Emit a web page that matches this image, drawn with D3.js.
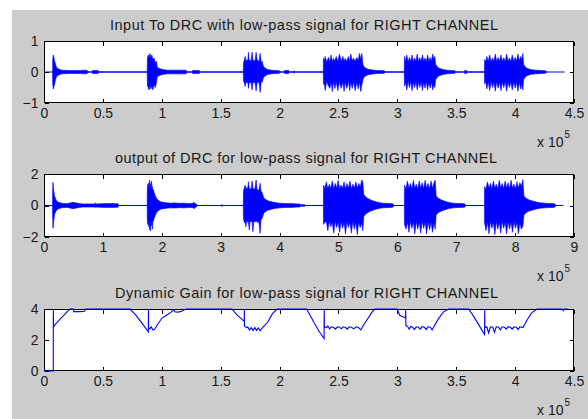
<!DOCTYPE html>
<html><head><meta charset="utf-8">
<script src="https://cdn.jsdelivr.net/npm/d3@7"></script>
<style>html,body{margin:0;padding:0;background:#fff;overflow:hidden}</style>
</head><body>
<svg id="c" width="588" height="419"></svg>
<script>
// ---------- DATA (x in units of 1e5 samples) ----------
const titles = [
  "Input To DRC with low-pass signal for RIGHT CHANNEL",
  "output of DRC for low-pass signal for RIGHT CHANNEL",
  "Dynamic Gain for low-pass signal for RIGHT CHANNEL"
];
const xTicksHalf = [0, 0.5, 1, 1.5, 2, 2.5, 3, 3.5, 4, 4.5];
const xTicksFull = [0, 1, 2, 3, 4, 5, 6, 7, 8, 9];
const yTicksIn = [-1, 0, 1];
const yTicksOut = [-2, 0, 2];
const yTicksGain = [0, 2, 4];
const inSpan = [0, 4.42];
const outSpan = [0, 8.82];

// Input signal envelope
const inX = [
  0.073,0.074,0.078,0.082,0.086,0.090,0.095,0.100,0.106,0.115,0.130,0.150,0.200,0.250,0.300,0.360,0.370,0.371,
  0.410,0.412,0.460,0.462,
  0.876,0.878,0.885,0.892,0.900,0.908,0.915,0.925,0.935,0.945,0.955,0.960,0.970,0.990,1.020,1.050,1.100,1.150,1.200,1.210,1.212,
  1.260,1.262,1.318,1.320,
  1.692,1.694,1.700,1.708,1.715,1.722,1.730,1.736,1.743,1.750,1.758,1.767,1.775,1.784,1.792,1.801,1.810,1.818,1.826,1.835,1.845,1.852,1.858,1.865,1.880,1.900,1.930,1.960,2.000,2.001,
  2.040,2.042,2.078,2.080, 2.118,2.120,2.126,2.128,
  2.371,2.373,2.380,2.387,2.400,2.416,2.427,2.438,2.448,2.458,2.470,2.481,2.495,2.509,2.523,2.538,2.548,2.557,2.571,2.586,2.596,2.605,2.617,2.628,2.642,2.656,2.668,2.679,2.690,2.699,2.706,2.712,2.725,2.750,2.780,2.820,2.860,2.890,2.895,
  3.058,3.061,3.070,3.080,3.092,3.103,3.114,3.125,3.136,3.147,3.158,3.169,3.180,3.191,3.202,3.213,3.224,3.235,3.246,3.257,3.268,3.279,3.290,3.300,3.310,3.318,3.325,3.340,3.360,3.390,3.420,3.460,3.490,3.492,
  3.570,3.572,3.588,3.590,
  3.739,3.741,3.750,3.760,3.772,3.784,3.796,3.808,3.820,3.832,3.844,3.856,3.868,3.880,3.892,3.904,3.916,3.928,3.940,3.952,3.964,3.976,3.988,4.000,4.012,4.024,4.036,4.048,4.058,4.066,4.072,4.085,4.100,4.130,4.170,4.220,4.260,4.270
];
const inHi = [
  0,0.40,0.55,0.50,0.45,0.35,0.30,0.22,0.15,0.12,0.09,0.06,0.05,0.05,0.05,0.06,0.04,0,
  0,0.05,0.05,0,
  0,0.45,0.55,0.48,0.60,0.45,0.55,0.40,0.45,0.30,0.35,0.18,0.13,0.10,0.07,0.06,0.06,0.06,0.06,0.05,0,
  0,0.05,0.05,0,
  0,0.30,0.38,0.50,0.33,0.40,0.35,0.64,0.35,0.38,0.36,0.64,0.35,0.38,0.35,0.64,0.36,0.38,0.33,0.60,0.30,0.35,0.25,0.18,0.12,0.08,0.06,0.05,0.04,0,
  0,0.05,0.05,0, 0,0.03,0.03,0,
  0,0.45,0.35,0.50,0.33,0.47,0.34,0.55,0.33,0.44,0.35,0.50,0.34,0.58,0.35,0.50,0.34,0.44,0.35,0.50,0.34,0.58,0.36,0.44,0.35,0.47,0.36,0.60,0.40,0.60,0.30,0.20,0.14,0.09,0.07,0.05,0.05,0.04,0,
  0,0.50,0.35,0.55,0.33,0.47,0.34,0.55,0.33,0.45,0.34,0.58,0.33,0.46,0.34,0.55,0.35,0.45,0.33,0.55,0.34,0.47,0.35,0.58,0.40,0.50,0.25,0.16,0.11,0.08,0.06,0.05,0.04,0,
  0,0.05,0.05,0,
  0,0.40,0.33,0.50,0.34,0.55,0.33,0.45,0.34,0.58,0.33,0.47,0.35,0.55,0.34,0.46,0.33,0.58,0.35,0.45,0.34,0.55,0.33,0.47,0.35,0.58,0.36,0.50,0.40,0.60,0.25,0.17,0.12,0.08,0.06,0.05,0.04,0
];
const inLo = [
  0,-0.35,-0.55,-0.50,-0.45,-0.40,-0.30,-0.22,-0.15,-0.12,-0.09,-0.06,-0.05,-0.05,-0.05,-0.06,-0.04,0,
  0,-0.05,-0.05,0,
  0,-0.45,-0.50,-0.58,-0.45,-0.55,-0.45,-0.58,-0.40,-0.50,-0.35,-0.18,-0.13,-0.10,-0.07,-0.06,-0.06,-0.06,-0.06,-0.05,0,
  0,-0.05,-0.05,0,
  0,-0.28,-0.35,-0.47,-0.31,-0.36,-0.32,-0.53,-0.31,-0.36,-0.32,-0.58,-0.31,-0.36,-0.32,-0.61,-0.31,-0.36,-0.31,-0.66,-0.30,-0.33,-0.25,-0.18,-0.12,-0.08,-0.06,-0.05,-0.04,0,
  0,-0.05,-0.05,0, 0,-0.03,-0.03,0,
  0,-0.40,-0.33,-0.60,-0.31,-0.45,-0.53,-0.32,-0.63,-0.31,-0.53,-0.31,-0.60,-0.31,-0.53,-0.32,-0.63,-0.31,-0.53,-0.31,-0.60,-0.32,-0.53,-0.31,-0.60,-0.33,-0.55,-0.32,-0.63,-0.40,-0.30,-0.20,-0.14,-0.09,-0.07,-0.05,-0.05,-0.04,0,
  0,-0.45,-0.32,-0.58,-0.31,-0.50,-0.31,-0.60,-0.32,-0.50,-0.31,-0.58,-0.32,-0.50,-0.31,-0.60,-0.32,-0.52,-0.31,-0.58,-0.33,-0.52,-0.32,-0.58,-0.40,-0.50,-0.25,-0.16,-0.11,-0.08,-0.06,-0.05,-0.04,0,
  0,-0.05,-0.05,0,
  0,-0.38,-0.31,-0.55,-0.32,-0.60,-0.31,-0.50,-0.32,-0.62,-0.31,-0.52,-0.33,-0.60,-0.32,-0.50,-0.31,-0.62,-0.33,-0.50,-0.32,-0.58,-0.31,-0.52,-0.33,-0.62,-0.34,-0.55,-0.40,-0.58,-0.25,-0.17,-0.12,-0.08,-0.06,-0.05,-0.04,0
];

// Output signal envelope
const outX = [
  0.145,0.147,0.152,0.158,0.164,0.170,0.178,0.186,0.195,0.204,0.220,0.240,0.270,0.300,0.350,0.400,0.450,0.500,0.550,0.600,0.650,0.700,0.800,0.860,0.870,0.880,0.950,1.050,1.150,1.260,1.262,
  1.752,1.754,1.762,1.770,1.778,1.786,1.794,1.802,1.810,1.818,1.826,1.834,1.842,1.850,1.860,1.870,1.880,1.890,1.900,1.912,1.924,1.940,1.960,1.990,2.030,2.080,2.150,2.220,2.300,2.380,2.450,2.520,2.550,2.560,2.590,2.592,
  3.015,3.017,3.025,3.027,
  3.384,3.387,3.395,3.405,3.415,3.428,3.443,3.457,3.471,3.486,3.500,3.515,3.534,3.548,3.562,3.580,3.602,3.616,3.630,3.648,3.670,3.685,3.700,3.715,3.730,3.760,3.800,3.850,3.900,3.950,4.000,4.100,4.200,4.300,4.350,4.352,
  4.360,4.362,4.430,4.432,
  4.744,4.746,4.770,4.795,4.820,4.845,4.870,4.895,4.920,4.945,4.970,4.995,5.020,5.045,5.070,5.095,5.120,5.145,5.170,5.195,5.220,5.245,5.270,5.295,5.320,5.345,5.370,5.395,5.414,5.430,5.460,5.500,5.550,5.600,5.650,5.700,5.750,5.800,5.850,5.900,5.930,5.935,
  6.120,6.122,6.147,6.172,6.197,6.222,6.247,6.272,6.297,6.322,6.347,6.372,6.397,6.422,6.447,6.472,6.497,6.522,6.547,6.572,6.597,6.622,6.643,6.660,6.700,6.750,6.800,6.850,6.900,6.950,7.000,7.050,7.100,7.150,7.155,
  7.479,7.481,7.506,7.531,7.556,7.581,7.606,7.631,7.656,7.681,7.706,7.731,7.756,7.781,7.806,7.831,7.856,7.881,7.906,7.931,7.956,7.981,8.006,8.031,8.056,8.081,8.106,8.132,8.150,8.190,8.240,8.300,8.360,8.420,8.500,8.580,8.650,8.680,8.685
];
const outHi = [
  0,0.9,1.48,1.2,1.0,0.85,0.6,0.55,0.45,0.35,0.28,0.22,0.18,0.15,0.13,0.12,0.17,0.20,0.16,0.13,0.10,0.10,0.10,0.10,0.17,0.10,0.11,0.12,0.12,0.11,0,
  0,1.0,1.35,1.1,1.45,1.05,1.62,1.1,1.4,1.0,1.55,0.95,1.2,0.9,1.0,0.8,0.75,0.6,0.55,0.45,0.40,0.33,0.28,0.22,0.20,0.17,0.15,0.16,0.14,0.15,0.13,0.13,0.20,0.13,0.10,0,
  0,0.06,0.06,0,
  0,0.9,1.05,1.15,1.30,1.05,1.15,1.0,1.51,1.05,1.1,1.0,1.55,1.05,1.1,1.0,1.62,1.05,1.0,0.95,1.41,0.9,0.85,0.7,0.5,0.4,0.3,0.25,0.2,0.17,0.15,0.12,0.12,0.1,0.1,0,
  0,0.05,0.05,0,
  0,1.3,1.1,1.5,1.05,1.35,1.1,1.55,1.05,1.4,1.1,1.6,1.05,1.3,1.1,1.5,1.05,1.4,1.1,1.55,1.05,1.35,1.1,1.5,1.1,1.4,1.15,1.62,1.5,0.7,0.55,0.45,0.35,0.28,0.22,0.18,0.15,0.14,0.13,0.12,0.10,0,
  0,1.3,1.05,1.55,1.1,1.4,1.05,1.6,1.1,1.35,1.05,1.55,1.1,1.45,1.05,1.6,1.1,1.4,1.05,1.55,1.1,1.45,1.6,0.6,0.45,0.35,0.28,0.22,0.18,0.15,0.13,0.12,0.12,0.10,0,
  0,1.2,1.05,1.5,1.1,1.4,1.05,1.55,1.1,1.35,1.05,1.6,1.1,1.4,1.05,1.55,1.1,1.45,1.05,1.6,1.1,1.35,1.05,1.5,1.1,1.45,1.2,1.65,0.6,0.45,0.35,0.28,0.22,0.18,0.15,0.13,0.12,0.10,0
];
const outLo = [
  0,-0.8,-1.45,-1.3,-1.0,-0.85,-0.6,-0.5,-0.45,-0.35,-0.28,-0.22,-0.18,-0.15,-0.13,-0.12,-0.17,-0.20,-0.16,-0.13,-0.10,-0.10,-0.10,-0.10,-0.12,-0.10,-0.11,-0.12,-0.12,-0.11,0,
  0,-0.9,-1.2,-1.0,-1.35,-1.1,-1.55,-1.05,-1.62,-1.0,-1.3,-1.0,-1.5,-0.9,-1.0,-0.8,-0.75,-0.6,-0.55,-0.45,-0.40,-0.33,-0.28,-0.22,-0.20,-0.17,-0.15,-0.16,-0.14,-0.15,-0.13,-0.13,-0.20,-0.13,-0.10,0,
  0,-0.06,-0.06,0,
  0,-0.8,-1.0,-1.1,-1.0,-1.35,-1.0,-1.05,-1.0,-1.56,-1.0,-1.05,-1.0,-1.66,-1.0,-1.05,-1.0,-1.0,-1.1,-1.0,-1.77,-0.9,-0.85,-0.7,-0.5,-0.4,-0.3,-0.25,-0.2,-0.17,-0.15,-0.12,-0.12,-0.1,-0.1,0,
  0,-0.05,-0.05,0,
  0,-1.2,-1.05,-1.05,-1.6,-1.0,-1.35,-1.05,-1.75,-1.0,-1.4,-1.05,-1.7,-1.0,-1.45,-1.05,-1.8,-1.0,-1.4,-1.05,-1.75,-1.0,-1.5,-1.05,-1.85,-1.05,-1.4,-1.1,-1.6,-0.7,-0.55,-0.45,-0.35,-0.28,-0.22,-0.18,-0.15,-0.14,-0.13,-0.12,-0.10,0,
  0,-1.2,-1.5,-1.05,-1.7,-1.0,-1.45,-1.05,-1.8,-1.0,-1.5,-1.05,-1.75,-1.0,-1.45,-1.05,-1.8,-1.0,-1.55,-1.05,-1.7,-1.1,-1.5,-0.6,-0.45,-0.35,-0.28,-0.22,-0.18,-0.15,-0.13,-0.12,-0.12,-0.10,0,
  0,-1.1,-1.6,-1.05,-1.8,-1.0,-1.45,-1.05,-1.85,-1.0,-1.5,-1.05,-1.75,-1.0,-1.45,-1.05,-1.8,-1.0,-1.5,-1.05,-1.7,-1.0,-1.45,-1.05,-1.8,-1.1,-1.5,-1.3,-0.6,-0.45,-0.35,-0.28,-0.22,-0.18,-0.15,-0.13,-0.12,-0.10,0
];

// Dynamic gain
const gainX = [
  0,0.079,0.079,0.081,0.100,0.130,0.170,0.200,0.220,0.250,0.252,0.300,0.345,0.350,
  0.730,0.780,0.830,0.886,0.887,0.888,0.900,0.910,0.925,0.940,0.960,1.000,1.040,1.080,1.100,1.110,1.140,1.170,1.190,1.210,
  1.595,1.640,1.690,1.700,1.701,1.702,1.720,1.730,1.745,1.760,1.775,1.790,1.805,1.820,1.835,1.850,1.900,1.940,1.980,
  2.230,2.290,2.330,2.378,2.379,2.381,2.400,2.410,2.425,2.440,2.460,2.475,2.490,2.510,2.525,2.540,2.560,2.575,2.590,2.610,2.630,2.650,2.670,2.690,2.705,2.740,2.785,2.810,
  3.000,3.020,3.070,3.071,3.073,3.090,3.100,3.115,3.130,3.145,3.160,3.180,3.195,3.210,3.230,3.245,3.260,3.280,3.295,3.310,3.350,3.390,3.435,
  3.605,3.647,3.690,3.741,3.742,3.744,3.760,3.775,3.790,3.810,3.825,3.840,3.860,3.875,3.890,3.910,3.925,3.940,3.960,3.975,3.990,4.010,4.025,4.040,4.067,4.100,4.140,4.186,
  4.400,4.410,4.420,4.450
];
const gainY = [
  0,0,4.0,2.84,3.05,3.3,3.6,3.85,4.0,4.0,3.83,3.83,3.85,4.0,
  4.0,3.6,3.1,2.52,4.0,2.8,2.72,2.85,2.65,2.7,2.95,3.4,3.6,3.8,3.95,3.82,3.8,3.85,3.95,4.0,
  4.0,3.6,3.27,3.2,4.0,2.91,2.80,2.84,2.65,2.80,2.62,2.80,2.62,2.78,2.60,2.75,3.16,3.70,4.0,
  4.0,3.16,2.63,2.10,4.0,2.85,2.80,2.90,2.72,2.85,2.80,2.70,2.85,2.82,2.72,2.85,2.80,2.70,2.85,2.82,2.72,2.85,2.80,2.65,2.85,3.27,3.8,4.0,
  4.0,3.59,3.42,4.0,2.93,2.85,2.70,2.88,2.82,2.68,2.85,2.82,2.70,2.86,2.82,2.68,2.85,2.82,2.65,2.85,3.38,3.80,4.0,
  4.0,3.54,2.99,2.35,4.0,2.80,2.85,2.45,2.85,2.82,2.50,2.85,2.82,2.65,2.85,2.82,2.70,2.86,2.82,2.70,2.85,2.82,2.68,2.85,2.80,3.27,3.75,4.0,
  4.0,3.9,4.0,4.0
];

// ---------- DRAWING ----------
const svg = d3.select("#c");
const FONT = "'Liberation Sans', Arial, Helvetica, sans-serif";
const BLUE = "#0000ff";
svg.append("rect").attr("x", 12).attr("y", 10).attr("width", 576).attr("height", 409).attr("fill", "#cccccc");

const L = 44, R = 574;
const titleBox = [[304, 388], [306, 382], [306.5, 383]];

function panel(idx, top, bottom, xDom, yDom, xTicks, yTicks, drawData, dataOnTop) {
  const x = d3.scaleLinear().domain(xDom).range([L, R]);
  const y = d3.scaleLinear().domain(yDom).range([bottom, top]);
  const g = svg.append("g");
  g.append("rect").attr("x", L).attr("y", top).attr("width", R - L).attr("height", bottom - top).attr("fill", "#fff");
  if (!dataOnTop) drawData(g, x, y);
  g.append("rect").attr("x", L + 0.5).attr("y", top + 0.5).attr("width", R - L - 1).attr("height", bottom - top - 1)
    .attr("fill", "none").attr("stroke", "#000").attr("stroke-width", 1).attr("shape-rendering", "crispEdges");
  const fmt = d3.format("~g");
  const axB = g.append("g").attr("transform", `translate(0,${bottom - 0.5})`)
    .call(d3.axisBottom(x).tickValues(xTicks).tickSize(-4).tickPadding(5.5).tickFormat(fmt));
  const axT = g.append("g").attr("transform", `translate(0,${top + 0.5})`)
    .call(d3.axisTop(x).tickValues(xTicks).tickSize(-4).tickFormat(""));
  const axLf = g.append("g").attr("transform", `translate(${L + 0.5},0)`)
    .call(d3.axisLeft(y).tickValues(yTicks).tickSize(-4).tickPadding(6).tickFormat(fmt));
  const axRt = g.append("g").attr("transform", `translate(${R - 0.5},0)`)
    .call(d3.axisRight(y).tickValues(yTicks).tickSize(-4).tickFormat(""));
  [axB, axT, axLf, axRt].forEach(a => {
    a.select(".domain").remove();
    a.selectAll("line").attr("stroke", "#000").attr("shape-rendering", "crispEdges");
    a.selectAll("text").attr("font-family", FONT).attr("font-size", 14).attr("fill", "#1a1a1a");
  });
  if (dataOnTop) drawData(g, x, y);
  const [cx, tw] = titleBox[idx];
  g.append("text").attr("x", cx - tw / 2).attr("y", top - 11.5)
    .attr("textLength", tw).attr("lengthAdjust", "spacing")
    .attr("font-family", FONT).attr("font-size", 14.5).attr("fill", "#1a1a1a").text(titles[idx]);
  const ex = g.append("text").attr("x", 537).attr("y", bottom + 44)
    .attr("font-family", FONT).attr("font-size", 14).attr("fill", "#1a1a1a");
  ex.append("tspan").text("x 10");
  ex.append("tspan").attr("font-size", 10).attr("dy", -9.5).attr("dx", 1).text("5");
}

function wave(X, H, Lo, span) {
  return (g, x, y) => {
    const pts = X.map((v, i) => [v, H[i], Lo[i]]);
    g.append("line").attr("x1", x(span[0])).attr("x2", x(span[1])).attr("y1", y(0)).attr("y2", y(0))
      .attr("stroke", BLUE).attr("stroke-width", 1);
    g.append("path").datum(pts)
      .attr("d", d3.area().x(d => x(d[0])).y0(d => y(d[2])).y1(d => y(d[1])))
      .attr("fill", BLUE).attr("stroke", BLUE).attr("stroke-width", 0.6);
  };
}

panel(0, 41, 103, [0, 4.5], [-1, 1], xTicksHalf, yTicksIn, wave(inX, inHi, inLo, inSpan), false);
panel(1, 174, 237, [0, 9], [-2, 2], xTicksFull, yTicksOut, wave(outX, outHi, outLo, outSpan), false);
panel(2, 309, 371, [0, 4.5], [0, 4], xTicksHalf, yTicksGain, (g, x, y) => {
  g.append("path").datum(gainX.map((v, i) => [v, gainY[i]]))
    .attr("d", d3.line().x(d => x(d[0])).y(d => y(d[1])))
    .attr("fill", "none").attr("stroke", BLUE).attr("stroke-width", 1.1);
}, true);
</script>
</body></html>
